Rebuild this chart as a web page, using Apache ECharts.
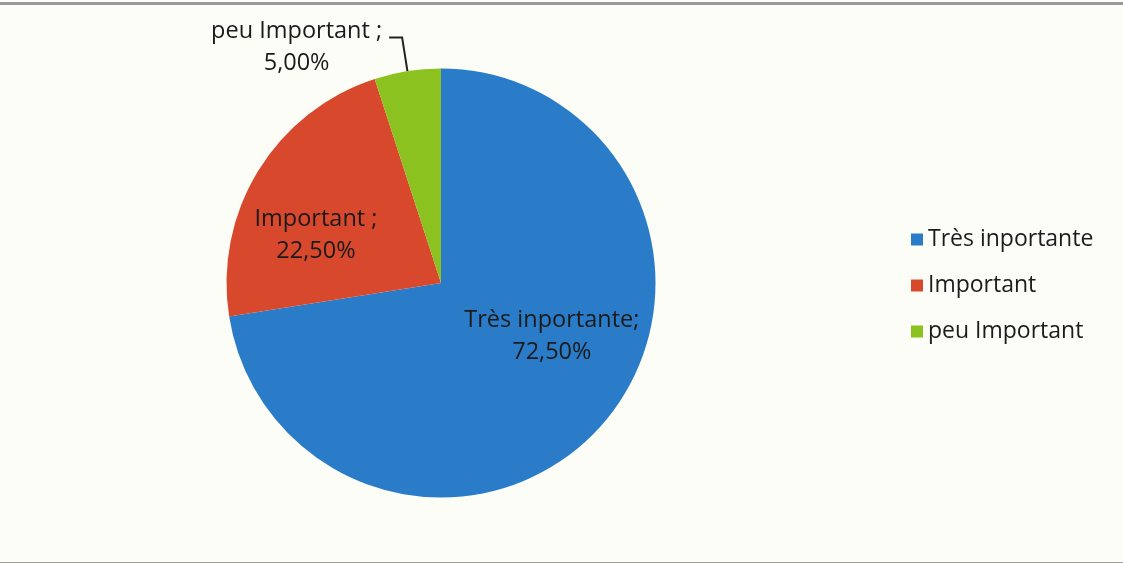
<!DOCTYPE html>
<html>
<head>
<meta charset="utf-8">
<script src="https://cdn.jsdelivr.net/npm/echarts@6/dist/echarts.min.js"></script>
<style>
  html, body { margin: 0; padding: 0; background: #fdfdf8; }
  #frame { width: 1123px; height: 563px; box-sizing: border-box; border-top: 3px solid #9a9a9a; border-bottom: 3px solid #a0a0a0; margin-top: 2px; }
  #chart { width: 1123px; height: 555px; }
</style>
</head>
<body>
<div id="frame"><div id="chart"></div></div>
<script>
// Importance ratings, share of answers
const categories = ['Très inportante', 'Important', 'peu Important'];
const shares = [72.5, 22.5, 5.0];
const labelNames = ['Très inportante;', 'Important ;', 'peu Important ;'];
const labelValues = ['72,50%', '22,50%', '5,00%'];
const colors = ['#2b7cc8', '#d8482c', '#8cc220'];

const chart = echarts.init(document.getElementById('chart'), null, { renderer: 'canvas' });
const font = '"Open Sans", "Noto Sans", sans-serif';
const labelSize = 23.5;

const data = categories.map((name, i) => {
  const item = { name, value: shares[i], itemStyle: { color: colors[i] } };
  if (i === 0) item.label = { position: 'inside', offset: [27, -18] };
  if (i === 1) item.label = { position: 'inside', offset: [-31, 10] };
  if (i === 2) item.label = { position: 'outside', offset: [0, 10] };
  return item;
});

chart.setOption({
  backgroundColor: '#fdfdf8',
  animation: false,
  legend: {
    orient: 'vertical',
    left: 906,
    top: 218,
    itemWidth: 12,
    itemHeight: 12,
    itemGap: 23,
    icon: 'rect',
    textStyle: { fontFamily: font, fontSize: 23, color: '#1c1c1c', padding: [0, 0, 0, 0] },
    data: categories
  },
  series: [{
    type: 'pie',
    center: [441, 278],
    radius: 214.5,
    startAngle: 90,
    clockwise: true,
    data,
    label: {
      formatter: p => '{a|' + labelNames[p.dataIndex] + '}\n{a|' + labelValues[p.dataIndex] + '}',
      fontFamily: font,
      fontSize: labelSize,
      lineHeight: 32,
      color: '#1a1a1a',
      distanceToLabelLine: 7,
      rich: {
        a: { fontFamily: font, fontSize: labelSize, lineHeight: 32, color: '#1a1a1a', align: 'center' }
      }
    },
    labelLine: {
      show: true,
      length: 34,
      length2: 13,
      lineStyle: { color: '#222', width: 2 }
    },
    emphasis: { disabled: true }
  }]
});
</script>
</body>
</html>
